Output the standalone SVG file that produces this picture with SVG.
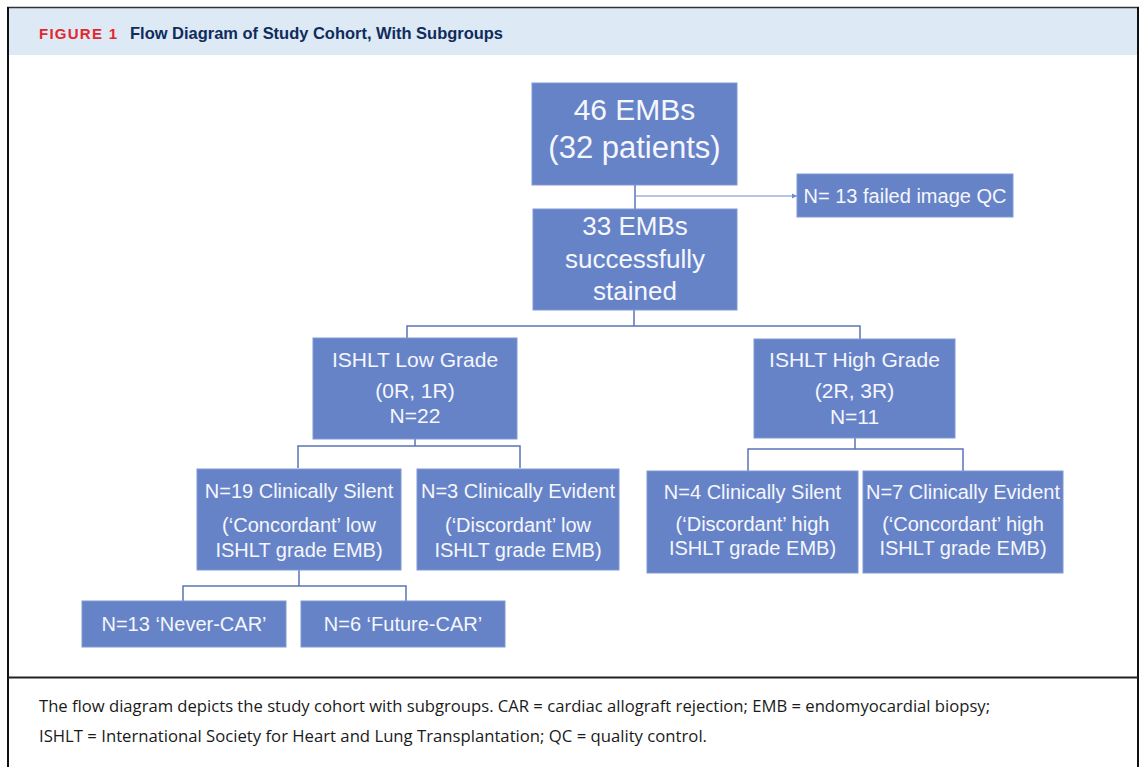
<svg xmlns="http://www.w3.org/2000/svg" width="1142" height="767" viewBox="0 0 1142 767">
<style>
.box{fill:#6783c8;stroke:#8099d3;stroke-width:1}
.t{font-family:"Liberation Sans",Arial,sans-serif;fill:#f5f7fc;text-anchor:middle}
.conn{fill:none;stroke:#5a75b6;stroke-width:1.5}
.cap{font-family:"Open Sans","Liberation Sans",sans-serif;font-size:16px;fill:#1a1a1a}
</style>
<defs>
<marker id="arr" markerWidth="6" markerHeight="6" refX="5" refY="3" orient="auto" markerUnits="userSpaceOnUse">
<path d="M0,0.5 L5,3 L0,5.5 Z" fill="#6f8ccc"/>
</marker>
</defs>
<rect x="0" y="0" width="1142" height="767" fill="#ffffff"/>
<g id="frame">
<rect x="9" y="8" width="1129" height="47" fill="#dde9f5"/>
<line x1="7" y1="7.5" x2="1139" y2="7.5" stroke="#333" stroke-width="1.5"/>
<line x1="8" y1="7" x2="8" y2="767" stroke="#111" stroke-width="2"/>
<line x1="1138" y1="7" x2="1138" y2="767" stroke="#111" stroke-width="2"/>
<line x1="8" y1="677.5" x2="1138" y2="677.5" stroke="#222" stroke-width="2"/>
<text x="39" y="39" font-family="Liberation Sans,Arial,sans-serif" font-weight="bold" font-size="15" fill="#e3262e" textLength="78" lengthAdjust="spacing">FIGURE 1</text>
<text x="130" y="39" font-family="Liberation Sans,Arial,sans-serif" font-weight="bold" font-size="17" fill="#0f2c5c" textLength="373" lengthAdjust="spacingAndGlyphs">Flow Diagram of Study Cohort, With Subgroups</text>
<text class="cap" x="39" y="712" textLength="951" lengthAdjust="spacingAndGlyphs">The flow diagram depicts the study cohort with subgroups. CAR = cardiac allograft rejection; EMB = endomyocardial biopsy;</text>
<text class="cap" x="39" y="742" textLength="668" lengthAdjust="spacingAndGlyphs">ISHLT = International Society for Heart and Lung Transplantation; QC = quality control.</text>
</g>
<g id="connectors">
<line class="conn" x1="635" y1="185" x2="635" y2="209"/>
<line x1="635" y1="196" x2="797" y2="196" stroke="#6f8ccc" stroke-width="1" marker-end="url(#arr)"/>
<path class="conn" d="M634,310 V326 M407,339 V326 H860 V339"/>
<path class="conn" d="M415,439 V446 M298,468 V446 H520 V468"/>
<path class="conn" d="M855,438 V449 M748,471 V449 H963 V471"/>
<path class="conn" d="M299,570 V586 M183,601 V586 H406 V601"/>
</g>
<g id="n1"><rect class="box" x="532" y="83" width="205" height="102"/>
<text class="t" x="634.5" y="120" font-size="30">46 EMBs</text>
<text class="t" x="634.5" y="158" font-size="31">(32 patients)</text></g>
<g id="n_qc"><rect class="box" x="797" y="174" width="216" height="43"/>
<text class="t" x="905" y="203" font-size="20">N= 13 failed image QC</text></g>
<g id="n2"><rect class="box" x="533" y="209" width="204" height="101"/>
<text class="t" x="635" y="235" font-size="26">33 EMBs</text>
<text class="t" x="635" y="268" font-size="26">successfully</text>
<text class="t" x="635" y="300" font-size="26">stained</text></g>
<g id="n_low"><rect class="box" x="313" y="338" width="204" height="101"/>
<text class="t" x="415" y="367" font-size="21">ISHLT Low Grade</text>
<text class="t" x="415" y="398" font-size="21">(0R, 1R)</text>
<text class="t" x="415" y="423" font-size="21">N=22</text></g>
<g id="n_high"><rect class="box" x="754" y="339" width="201" height="99"/>
<text class="t" x="854.5" y="367" font-size="21">ISHLT High Grade</text>
<text class="t" x="854.5" y="398" font-size="21">(2R, 3R)</text>
<text class="t" x="854.5" y="424" font-size="21">N=11</text></g>
<g id="n_ls"><rect class="box" x="197" y="469" width="204" height="101"/>
<text class="t" x="299" y="498" font-size="20">N=19 Clinically Silent</text>
<text class="t" x="299" y="532" font-size="20">(‘Concordant’ low</text>
<text class="t" x="299" y="557" font-size="20">ISHLT grade EMB)</text></g>
<g id="n_le"><rect class="box" x="417" y="469" width="202" height="101"/>
<text class="t" x="518" y="498" font-size="20">N=3 Clinically Evident</text>
<text class="t" x="518" y="532" font-size="20">(‘Discordant’ low</text>
<text class="t" x="518" y="557" font-size="20">ISHLT grade EMB)</text></g>
<g id="n_hs"><rect class="box" x="647" y="471" width="211" height="102"/>
<text class="t" x="752.5" y="499" font-size="20">N=4 Clinically Silent</text>
<text class="t" x="752.5" y="531" font-size="20">(‘Discordant’ high</text>
<text class="t" x="752.5" y="555" font-size="20">ISHLT grade EMB)</text></g>
<g id="n_he"><rect class="box" x="863" y="471" width="200" height="102"/>
<text class="t" x="963" y="499" font-size="20">N=7 Clinically Evident</text>
<text class="t" x="963" y="531" font-size="20">(‘Concordant’ high</text>
<text class="t" x="963" y="555" font-size="20">ISHLT grade EMB)</text></g>
<g id="n_never"><rect class="box" x="82" y="601" width="204" height="46"/>
<text class="t" x="184" y="631" font-size="20">N=13 ‘Never-CAR’</text></g>
<g id="n_future"><rect class="box" x="301" y="601" width="204" height="46"/>
<text class="t" x="403" y="631" font-size="20">N=6 ‘Future-CAR’</text></g>
</svg>
